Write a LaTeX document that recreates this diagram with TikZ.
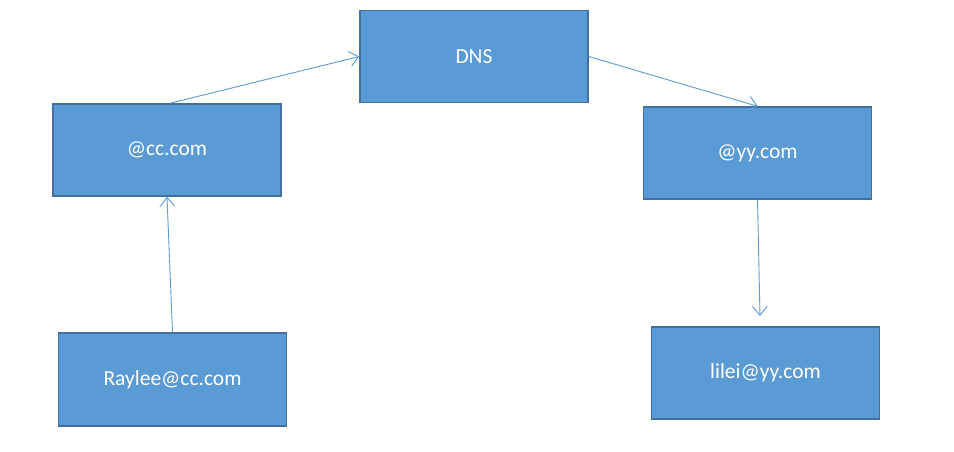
\documentclass[tikz,border=0pt]{standalone}
\usepackage{fontspec}
\setmainfont{Carlito}
\usetikzlibrary{arrows.meta,calc}
\definecolor{boxfill}{HTML}{5B9BD5}
\definecolor{boxline}{HTML}{41719C}
\begin{document}
\begin{tikzpicture}[x=1pt,y=-1pt,
  box/.style={draw=boxline,line width=1.5pt,fill=boxfill,text=white,font=\fontsize{21.5}{24}\selectfont,minimum width=228pt,minimum height=92pt,inner sep=0pt},
  conn/.style={draw=boxfill,line width=0.9pt,-{Straight Barb[length=9pt,width=15pt,line width=0.9pt]}}]
\useasboundingbox (0,0) rectangle (954,452);
\node[box] (dns) at (474,56.5) {DNS};
\node[box] (cc) at (167,150) {@cc.com};
\node[box] (yy) at (757.5,153) {@yy.com};
\node[box,minimum height=93pt] (rd) at (172.5,379.5) {Raylee@cc.com};
\node[box] (ll) at (765.5,373) {lilei@yy.com};
\coordinate (llin) at (760,316);
\draw[conn] (cc.north) ++(3,0) coordinate (ccout) -- (dns.west);
\draw[conn] (dns.east) -- (yy.north);
\draw[conn] (rd.north) -- (cc.south);
\draw[conn] (yy.south) -- (llin);
\end{tikzpicture}
\end{document}
